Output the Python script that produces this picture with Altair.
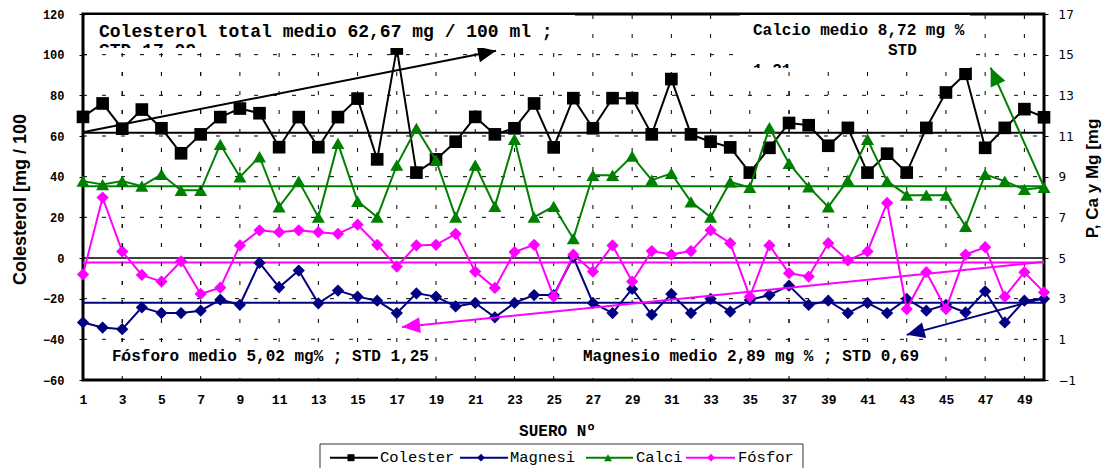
import math
import altair as alt
import pandas as pd

# ------------------------------------------------------------------ data
suero = list(range(1, 51))
colesterol = [69.4, 76, 63.6, 73, 63.8, 51.5, 60.8, 69.3, 73.5, 71.2,
              54.5, 69.3, 54.5, 69.3, 78.4, 48.5, 103, 42, 48.5, 57.2,
              69.4, 60.8, 63.8, 76, 54.4, 78.6, 63.8, 78.6, 78.6, 60.8,
              88, 60.8, 57.2, 54.4, 42, 54.2, 66.4, 65.3, 55.2, 64,
              42, 51.3, 42, 64, 81.4, 90.6, 54.2, 64, 73.2, 69.2]
magnesio = [1.83, 1.58, 1.5, 2.57, 2.29, 2.29, 2.41, 2.95, 2.7, 4.76,
            3.56, 4.38, 2.77, 3.4, 3.1, 2.9, 2.29, 3.26, 3.1, 2.62,
            2.79, 2.08, 2.79, 3.18, 3.18, 5.04, 2.79, 2.29, 3.48, 2.21,
            3.23, 2.29, 2.99, 2.36, 2.94, 3.18, 3.64, 2.69, 2.9, 2.29,
            2.79, 2.29, 2.99, 2.41, 2.7, 2.32, 3.36, 1.83, 2.9, 2.99]
calcio = [8.78, 8.61, 8.78, 8.53, 9.11, 8.33, 8.33, 10.59, 8.99, 9.98,
          7.52, 8.78, 7.01, 10.64, 7.79, 7.01, 9.57, 11.38, 9.81, 7.01,
          9.57, 7.54, 10.84, 7.01, 7.54, 5.95, 9.07, 9.07, 10.01, 8.83,
          9.16, 7.76, 7.01, 8.74, 8.47, 11.41, 9.65, 8.5, 7.51, 8.83,
          10.84, 8.78, 8.09, 8.09, 8.09, 6.56, 9.11, 8.78, 8.37, 8.47]
fosforo = [4.19, 7.97, 5.32, 4.17, 3.84, 4.84, 3.23, 3.54, 5.62, 6.36,
           6.27, 6.36, 6.27, 6.19, 6.64, 5.65, 4.58, 5.62, 5.65, 6.19,
           4.33, 3.53, 5.29, 5.65, 3.1, 5.16, 4.33, 5.62, 3.84, 5.34,
           5.17, 5.34, 6.36, 5.73, 3.1, 5.62, 4.25, 4.09, 5.73, 4.88,
           5.32, 7.71, 2.49, 4.3, 2.49, 5.17, 5.53, 3.1, 4.3, 3.31]

# mean lines (as drawn)
media_colesterol = 61.6
media_magnesio = 2.8
media_calcio = 8.53
media_fosforo = 4.78

# arrow annotations (start x, start y, tip x, tip y) in data units
flecha_colesterol = [1.05, 62.0, 22.06, 101.9]
flecha_calcio = [50, 8.5, 47.28, 14.36]
flecha_fosforo = [50, 4.81, 17.27, 1.61]
flecha_magnesio = [50, 3.03, 43.0, 1.22]

x_ticks = list(range(1, 50, 2))
y_left_ticks = list(range(-60, 121, 20))
y_right_ticks = list(range(-1, 18, 2))
grid_y = [-40, -20, 20, 40, 60, 80, 100]
grid_x = list(range(3, 50, 2))

texto_col_1 = "Colesterol total medio 62,67 mg / 100 ml ;"
texto_col_2 = "STD 17,09"
texto_ca_1 = "Calcio medio 8,72 mg %"
texto_ca_2 = "STD"
texto_ca_3 = "1,21"
texto_p = "Fósforo medio 5,02 mg% ; STD 1,25"
texto_mg = "Magnesio medio 2,89 mg % ; STD 0,69"

leyenda = ["Colester", "Magnesi", "Calci", "Fósfor"]

# ------------------------------------------------------------------ layout
W, H = 961, 366
NEGRO, AZUL, VERDE, MAGENTA = "#000000", "#000080", "#008000", "#FF00FF"
MONO = "Liberation Mono"
SANS = "Liberation Sans"
DASH = [4, 15]

XS = alt.Scale(domain=[1, 50], nice=False, zero=False)
YL = alt.Scale(domain=[-60, 120], nice=False, zero=False)
YR = alt.Scale(domain=[-1, 17], nice=False, zero=False)


def px(x):
    return (x - 1) / 49 * W


def py_l(v):
    return (120 - v) / 180 * H


def py_r(v):
    return (17 - v) / 18 * H


df = pd.DataFrame({"suero": suero, "colesterol": colesterol, "magnesio": magnesio,
                   "calcio": calcio, "fosforo": fosforo})
uno = pd.DataFrame({"k": [0]})

layers = []

# gridlines
layers.append(alt.Chart(pd.DataFrame({"g": grid_y})).mark_rule(
    color="black", strokeWidth=1, strokeDash=DASH).encode(
    x=alt.value(0), x2=alt.value(W), y=alt.Y("g:Q", scale=YL, axis=None)))
layers.append(alt.Chart(pd.DataFrame({"g": grid_x})).mark_rule(
    color="black", strokeWidth=1, strokeDash=DASH).encode(
    x=alt.X("g:Q", scale=XS, axis=None), y=alt.value(H), y2=alt.value(0)))
# zero line
layers.append(alt.Chart(pd.DataFrame({"z": [0]})).mark_rule(
    color="black", strokeWidth=1.5).encode(
    x=alt.value(0), x2=alt.value(W), y=alt.Y("z:Q", scale=YL, axis=None)))

# mean lines
for val, sc, col in [(media_colesterol, YL, NEGRO), (media_magnesio, YR, AZUL),
                     (media_calcio, YR, VERDE), (media_fosforo, YR, MAGENTA)]:
    layers.append(alt.Chart(pd.DataFrame({"m": [val]})).mark_rule(
        color=col, strokeWidth=2).encode(
        x=alt.value(0), x2=alt.value(W), y=alt.Y("m:Q", scale=sc, axis=None)))

axis_x = alt.Axis(values=x_ticks, grid=False, domain=False, ticks=False, tickSize=0,
                  labelFont=MONO, labelFontWeight="bold", labelFontSize=13,
                  labelColor="black", labelPadding=13, labelFlush=False,
                  title="SUERO Nº", titleFont=MONO, titleFontWeight="bold",
                  titleFontSize=16, titleColor="black", titleX=474, titleY=50,
                  titleBaseline="middle", titleAlign="center")
axis_l = alt.Axis(values=y_left_ticks, grid=False, domain=False, ticks=True, tickSize=4,
                  tickColor="black", tickWidth=1, labelFont=MONO, labelFontWeight="bold",
                  labelFontSize=12, labelColor="black", labelPadding=15,
                  title="Colesterol [mg / 100", titleFont=SANS, titleFontWeight="bold",
                  titleFontSize=18, titleColor="black", titleAngle=270, titleX=-63,
                  titleY=185, titleAlign="center", titleBaseline="middle")
axis_r = alt.Axis(values=y_right_ticks, orient="right", grid=False, domain=False,
                  ticks=True, tickSize=4, tickColor="black", tickWidth=1,
                  labelFont="DejaVu Sans", labelFontSize=12, labelColor="black",
                  labelPadding=10, title="P, Ca y Mg [mg", titleFont=SANS,
                  titleFontWeight="bold", titleFontSize=17, titleColor="black",
                  titleAngle=270, titleX=48, titleY=164, titleAlign="center",
                  titleBaseline="middle")


def serie(field, scale, color, shape, size, yaxis=None, xaxis=None):
    line = alt.Chart(df).mark_line(color=color, strokeWidth=2).encode(
        x=alt.X("suero:Q", scale=XS, axis=xaxis),
        y=alt.Y(f"{field}:Q", scale=scale, axis=yaxis))
    pts = alt.Chart(df).mark_point(shape=shape, size=size, filled=True, color=color,
                                   opacity=1).encode(
        x=alt.X("suero:Q", scale=XS, axis=None),
        y=alt.Y(f"{field}:Q", scale=scale, axis=None))
    return [line, pts]


layers += serie("colesterol", YL, NEGRO, "square", 160, yaxis=axis_l, xaxis=axis_x)
layers += serie("magnesio", YR, AZUL, "diamond", 150)
layers += serie("calcio", YR, VERDE, "triangle-up", 170, yaxis=axis_r)
layers += serie("fosforo", YR, MAGENTA, "diamond", 150)

HEAD = "M0,0L0.8,1.8L-0.8,1.8Z"


def flecha(f, scale, pyf, color):
    x0, y0, x1, y1 = f
    d = pd.DataFrame({"x0": [x0], "y0": [y0], "x1": [x1], "y1": [y1]})
    dx = px(x1) - px(x0)
    dy = pyf(y1) - pyf(y0)
    ang = math.degrees(math.atan2(dx, -dy)) % 360
    line = alt.Chart(d).mark_rule(color=color, strokeWidth=2).encode(
        x=alt.X("x0:Q", scale=XS, axis=None), x2="x1:Q",
        y=alt.Y("y0:Q", scale=scale, axis=None), y2="y1:Q")
    head = alt.Chart(d).mark_point(shape=HEAD, size=400, filled=True, color=color,
                                   opacity=1, strokeWidth=0, angle=ang).encode(
        x=alt.X("x1:Q", scale=XS, axis=None),
        y=alt.Y("y1:Q", scale=scale, axis=None))
    return [line, head]


layers += flecha(flecha_colesterol, YL, py_l, NEGRO)
layers += flecha(flecha_calcio, YR, py_r, VERDE)
layers += flecha(flecha_fosforo, YR, py_r, MAGENTA)
layers += flecha(flecha_magnesio, YR, py_r, AZUL)


def rect(x0, y0, x1, y1):
    return alt.Chart(uno).mark_rect(color="white", opacity=1).encode(
        x=alt.value(x0), x2=alt.value(x1), y=alt.value(y0), y2=alt.value(y1))


def texto(t, x, y, size, weight="bold", align="left"):
    return alt.Chart(uno).mark_text(text=t, font=MONO, fontSize=size, fontWeight=weight,
                                    color="black", align=align,
                                    baseline="alphabetic").encode(
        x=alt.value(x), y=alt.value(y))


# text boxes (white, over the plot)
layers.append(rect(2, 1, 492, 34))
layers.append(rect(657, 1, 887, 54))
layers.append(rect(12, 331, 349, 364))
layers.append(rect(487, 331, 842, 364))

layers.append(texto(texto_col_1, 16, 23, 18))
layers.append(texto(texto_col_2, 16, 42, 18))
layers.append(texto(texto_ca_1, 670, 21, 16))
layers.append(texto(texto_ca_2, 805, 41, 16))
layers.append(texto(texto_ca_3, 670, 61, 16))
layers.append(texto(texto_p, 29, 347, 16))
layers.append(texto(texto_mg, 500, 347, 16))

# overflow covers (text clipped by its box) + gridlines redrawn there
layers.append(rect(12, 34, 130, 47))
layers.append(rect(665, 54, 720, 66))
layers.append(alt.Chart(pd.DataFrame({"g": [100]})).mark_rule(
    color="black", strokeWidth=1, strokeDash=DASH).encode(
    x=alt.value(0), x2=alt.value(130), y=alt.Y("g:Q", scale=YL, axis=None)))
layers.append(alt.Chart(pd.DataFrame({"g": [3, 5, 7]})).mark_rule(
    color="black", strokeWidth=1, strokeDash=DASH).encode(
    x=alt.X("g:Q", scale=XS, axis=None), y=alt.value(H), y2=alt.value(34)))
layers.append(alt.Chart(pd.DataFrame({"g": [37]})).mark_rule(
    color="black", strokeWidth=1, strokeDash=DASH).encode(
    x=alt.X("g:Q", scale=XS, axis=None), y=alt.value(H), y2=alt.value(54)))

# legend (manual, below the plot)
LY = 443.7
leg_items = [
    (leyenda[0], NEGRO, "square", 49, 247, 295, 268, 297),
    (leyenda[1], AZUL, "diamond", 60, 377, 425, 398, 427),
    (leyenda[2], VERDE, "triangle-up", 64, 503, 550, 525, 553),
    (leyenda[3], MAGENTA, "diamond", 60, 603, 652, 628, 655),
]
layers.append(alt.Chart(uno).mark_rule(color="#333333", strokeWidth=1).encode(
    x=alt.value(237), x2=alt.value(720), y=alt.value(430)))
layers.append(alt.Chart(uno).mark_rule(color="#333333", strokeWidth=1).encode(
    x=alt.value(237), y=alt.value(430), y2=alt.value(470)))
layers.append(alt.Chart(uno).mark_rule(color="#333333", strokeWidth=1).encode(
    x=alt.value(720), y=alt.value(430), y2=alt.value(470)))
for lab, col, shp, sz, l0, l1, lm, lt in leg_items:
    layers.append(alt.Chart(uno).mark_rule(color=col, strokeWidth=2).encode(
        x=alt.value(l0), x2=alt.value(l1), y=alt.value(LY)))
    layers.append(alt.Chart(uno).mark_point(shape=shp, size=sz, filled=True, color=col,
                                            opacity=1).encode(
        x=alt.value(lm), y=alt.value(LY)))
    layers.append(alt.Chart(uno).mark_text(text=lab, font=MONO, fontSize=15.5,
                                           color="black", align="left",
                                           baseline="alphabetic").encode(
        x=alt.value(lt), y=alt.value(448)))

chart = alt.layer(*layers).resolve_scale(y="independent").resolve_axis(
    x="independent").properties(
    width=W, height=H,
    autosize=alt.AutoSizeParams(type="none"),
    padding={"left": 75, "top": 6, "right": 58, "bottom": 88},
    background="white",
).configure_view(stroke="black", strokeWidth=3)

chart.save("out.html", embed_options={"renderer": "svg", "actions": False})
